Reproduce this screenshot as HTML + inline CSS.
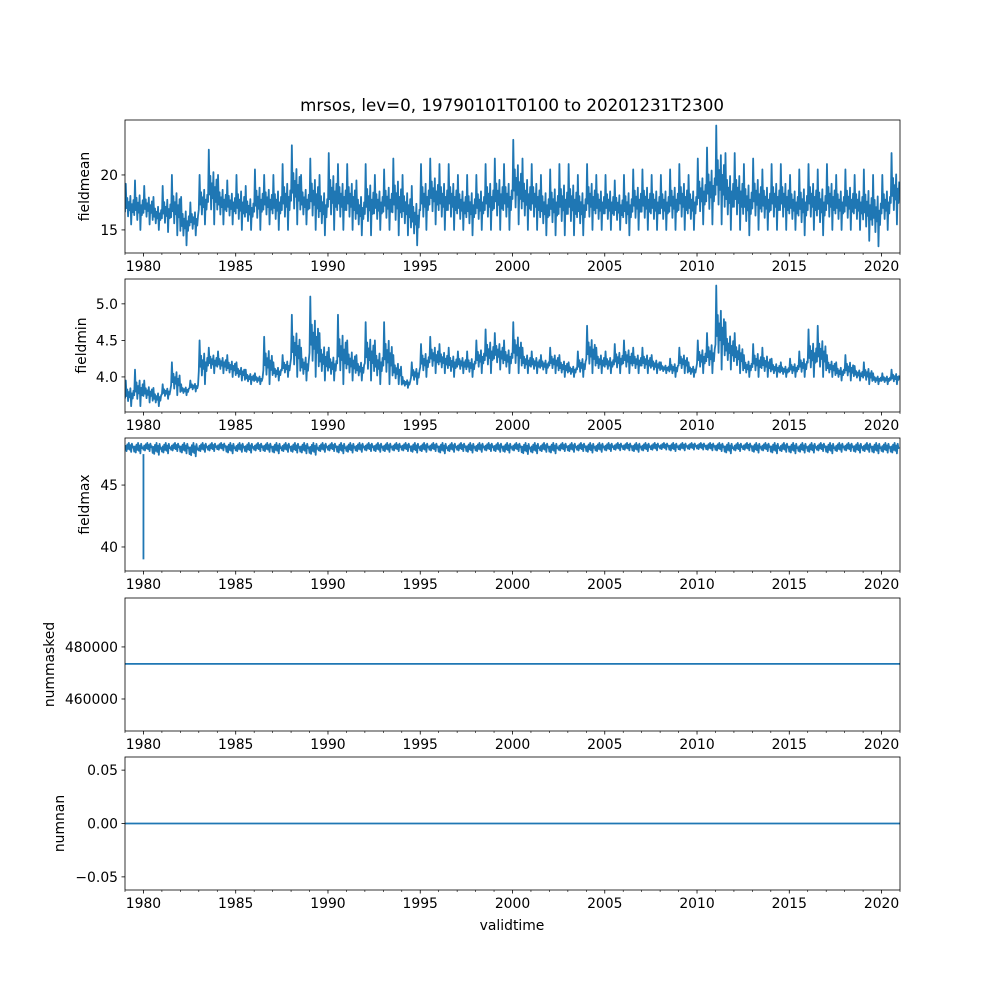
<!DOCTYPE html>
<html><head><meta charset="utf-8"><style>
body{margin:0;background:#fff}
svg text{font-family:"DejaVu Sans","Liberation Sans",sans-serif;font-size:13.9px;fill:#000}
</style></head><body>
<svg id="fig" width="1000" height="1000" viewBox="0 0 1000 1000"></svg>
<script>
// ---- data (half-year bins, 1979 H1 .. 2020 H2) ----
const binStartYear = 1979;
const meanHi=[19.2,19.5,19,18,19,20,18,17.5,20,22.3,20,19.5,20,19,20.5,20,20,21,22.7,20,21.5,20,22,21,21,19.5,21,20,20.5,21.5,20,19,21,21.5,21,21,20,20,20,21,21.5,21,23.2,21.5,21,20,20.5,21,21,20,21,20,20,19.5,20,20.5,20.5,20,20,20.5,21,20,21.5,22.5,24.5,22,22,21,21.5,20.5,21,21,20,20.5,21,20.5,21,20,20.5,20,20.5,20,20,22];
const meanLo=[15.5,15,15.5,15,14.8,14.5,13.6,14.5,15.5,15.5,15.5,15.5,15,15,15,15.5,15,15,15.5,15.5,15,14.5,15,15,15,14.5,14.5,15,15,14.5,14.5,13.6,15,15.5,15,15,15,14.5,15,15,15,15,15.5,15,15,14.5,14.5,14.5,14.5,14.5,15,15,15,15,14.5,15,15,15,15,15,15,15,15.5,15.5,15.5,15,15,14.5,15,15,15,15,15,14.5,15,14.5,15,15,15,15,14,13.5,15,15.5];
const minHi=[3.95,4.1,3.95,3.85,3.9,4.2,3.9,3.95,4.5,4.4,4.35,4.3,4.2,4.1,4.05,4.55,4.2,4.3,4.85,4.4,5.1,4.6,4.4,4.85,4.5,4.3,4.75,4.5,4.75,4.3,4.0,4.2,4.45,4.55,4.45,4.4,4.35,4.35,4.5,4.65,4.6,4.5,4.75,4.4,4.35,4.3,4.4,4.3,4.2,4.35,4.7,4.4,4.35,4.45,4.5,4.4,4.4,4.3,4.2,4.25,4.4,4.2,4.5,4.6,5.25,4.75,4.6,4.3,4.45,4.4,4.25,4.2,4.25,4.35,4.65,4.7,4.3,4.2,4.3,4.15,4.2,4.05,4.05,4.1];
const minLo=[3.6,3.6,3.65,3.6,3.7,3.75,3.75,3.8,3.9,4.05,4.05,4.0,3.95,3.9,3.9,3.9,3.95,4.0,4.0,3.95,4.0,3.95,3.95,3.9,3.95,3.95,3.95,3.9,3.9,3.9,3.85,3.9,4.0,4.05,4.05,4.0,4.05,4.0,4.05,4.05,4.1,4.05,4.05,4.05,4.05,4.05,4.05,4.0,4.0,4.0,4.05,4.05,4.05,4.05,4.05,4.05,4.05,4.05,4.05,4.0,4.05,4.0,4.05,4.05,4.1,4.1,4.05,4.0,4.0,4.0,4.0,4.0,4.0,4.0,4.0,4.0,4.0,3.95,3.95,3.95,3.9,3.9,3.9,3.9];
const maxHi=[48.4,48.4,48.4,48.4,48.4,48.4,48.4,48.4,48.4,48.4,48.4,48.4,48.4,48.4,48.4,48.4,48.4,48.4,48.4,48.4,48.4,48.4,48.4,48.4,48.4,48.4,48.4,48.4,48.4,48.4,48.4,48.4,48.4,48.4,48.4,48.4,48.4,48.4,48.4,48.4,48.4,48.4,48.4,48.4,48.4,48.4,48.4,48.4,48.4,48.4,48.4,48.4,48.4,48.4,48.4,48.4,48.4,48.4,48.4,48.4,48.4,48.4,48.4,48.4,48.4,48.4,48.4,48.4,48.4,48.4,48.4,48.4,48.4,48.4,48.4,48.4,48.4,48.4,48.4,48.4,48.4,48.4,48.4,48.4];
const maxLo=[47.2,47.0,47.3,46.8,47.0,47.3,47.0,46.6,47.2,47.3,47.4,47.0,47.2,47.1,47.3,47.2,47.0,47.2,47.1,47.0,46.8,47.2,47.3,47.0,47.1,47.2,47.3,47.2,47.2,47.3,47.3,47.1,47.2,47.3,47.0,47.2,47.3,47.1,47.2,47.3,47.2,47.1,47.3,46.9,47.0,47.2,47.0,47.3,47.2,47.3,47.1,47.2,47.3,47.4,47.4,47.2,47.3,47.4,47.5,47.3,47.4,47.5,47.5,47.4,47.3,47.0,47.3,47.4,47.1,47.3,47.0,47.2,47.0,47.1,47.1,47.3,47.0,47.2,47.3,47.1,47.2,47.0,47.1,47.0];
const maxSpikeYears=[1980.0];
const maxSpikeVals=[39.0];
const nummaskedVal=[473500,473500];
const numnanVal=[0,0];
const xTickYears=[1980,1985,1990,1995,2000,2005,2010,2015,2020];
const panelLabels=["fieldmean","fieldmin","fieldmax","nummasked","numnan"];
const yTicks1=[15,20], yTicks2=[4.0,4.5,5.0], yTicks3=[40,45], yTicks4=[460000,480000], yTicks5=[-0.05,0,0.05];
const yTickText2=["4.0","4.5","5.0"], yTickText5=["−0.05","0.00","0.05"];

const NS="http://www.w3.org/2000/svg", svg=document.getElementById('fig');
const L=125,R=900,X0=1979,X1=2021;
const xs=y=>L+(y-X0)/(X1-X0)*(R-L);
const C='#1f77b4';
function el(t,a,p){const e=document.createElementNS(NS,t);for(const k in a)e.setAttribute(k,a[k]);(p||svg).appendChild(e);return e;}
const patternA=[0.3,1,0.4,0.65,0.2,0.55,0.35,0.7,0,0.5,0.3,0.6];
const patternB=[0.5,0.8,0.45,0.9,0.6,1,0.55,0.85,0.4,0.95,0.7,0.75];
const panels=[
 {top:120,bot:253,ymin:12.9,ymax:25,ticks:yTicks1,tt:null,hi:meanHi,lo:meanLo,pat:patternA},
 {top:279,bot:412,ymin:3.52,ymax:5.34,ticks:yTicks2,tt:yTickText2,hi:minHi,lo:minLo,pat:patternA},
 {top:438,bot:571,ymin:38.06,ymax:48.8,ticks:yTicks3,tt:null,hi:maxHi,lo:maxLo,pat:patternB},
 {top:598,bot:731,ymin:447700,ymax:498800,ticks:yTicks4,tt:null,flat:nummaskedVal},
 {top:757,bot:890,ymin:-0.0623,ymax:0.0623,ticks:yTicks5,tt:yTickText5,flat:numnanVal}];
panels.forEach((p,pi)=>{
 const g=el('g',{});  
 const ys=v=>p.bot-(v-p.ymin)/(p.ymax-p.ymin)*(p.bot-p.top);
 const cp='clip'+pi;
 const cl=el('clipPath',{id:cp},g); el('rect',{x:L,y:p.top,width:R-L,height:p.bot-p.top},cl);
 let d='';
 if(p.hi){
  const n=p.hi.length, pat=p.pat;
  for(let i=0;i<n;i++){
   const xa=xs(binStartYear+i/2), xb=xs(binStartYear+(i+1)/2);
   for(let k=0;k<pat.length;k++){
    const f=pat[k], v=p.lo[i]+(p.hi[i]-p.lo[i])*f;
    const x=xa+(xb-xa)*k/pat.length;
    d+=(d?'L':'M')+x.toFixed(2)+','+ys(v).toFixed(2);
   }
  }
 } else {
  d='M'+xs(X0)+','+ys(p.flat[0])+'L'+xs(X1)+','+ys(p.flat[1]);
 }
 const line=el('path',{d:d,fill:'none',stroke:C,'stroke-width':1.8,'stroke-linejoin':'round','clip-path':'url(#'+cp+')'},g);
 
 
 if(pi===2){
  maxSpikeYears.forEach((yr,j)=>{
   const s=el('path',{d:'M'+xs(yr)+','+ys(47.5)+'L'+xs(yr)+','+ys(maxSpikeVals[j]),stroke:C,'stroke-width':1.8,fill:'none'},g);
   
   
  });
 }
 el('rect',{x:L,y:p.top,width:R-L,height:p.bot-p.top,fill:'none',stroke:'#000','stroke-width':0.8},g);
 for(let yr=X0;yr<=X1;yr++){
  const x=xs(yr); const maj=xTickYears.includes(yr);
  el('line',{x1:x,x2:x,y1:p.bot,y2:p.bot+(maj?3.5:2),stroke:'#000','stroke-width':maj?0.8:0.6},g);
 }
 xTickYears.forEach(yr=>{const t=el('text',{x:xs(yr),y:p.bot+18,'text-anchor':'middle'},g);t.textContent=yr;
  });
 p.ticks.forEach((v,j)=>{const y=ys(v);
  el('line',{x1:L-3.5,x2:L,y1:y,y2:y,stroke:'#000','stroke-width':0.8},g);
  const t=el('text',{x:L-7,y:y+5,'text-anchor':'end'},g);t.textContent=p.tt?p.tt[j]:v;
  });
 const lx=pi===3?54:(pi===4?64:(pi===1?86:89)), ly=(p.top+p.bot)/2;
 const yl=el('text',{x:lx,y:ly,'text-anchor':'middle',transform:'rotate(-90 '+lx+' '+ly+')'},g);
 yl.textContent=panelLabels[pi];
 
});
const title=el('text',{x:512,y:111,'text-anchor':'middle',style:'font-size:16.7px'});
title.textContent='mrsos, lev=0, 19790101T0100 to 20201231T2300';

const xl=el('text',{x:512,y:930,'text-anchor':'middle'});
xl.textContent='validtime';

</script>
</body></html>
